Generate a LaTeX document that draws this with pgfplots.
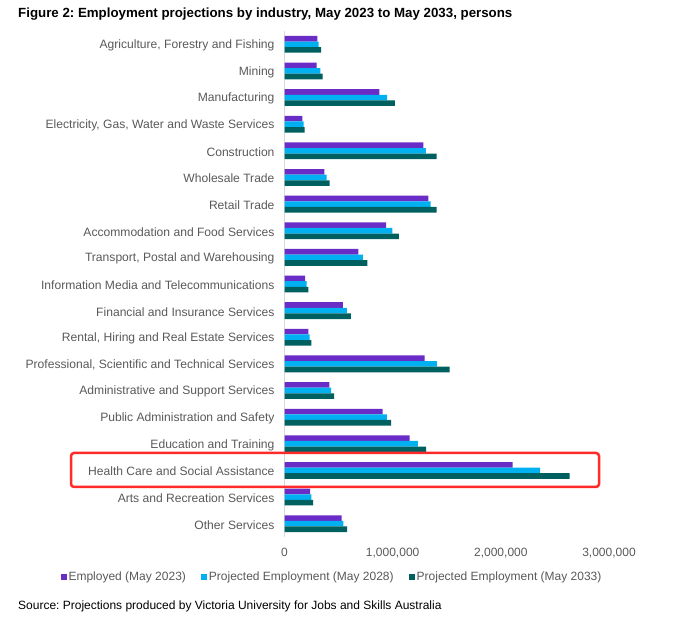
\documentclass[border=0pt]{standalone}
\usepackage{pgfplots}
\pgfplotsset{compat=1.18}
\usepackage{pgfplotstable}
\usepackage{fontspec}
\setmainfont{Liberation Sans}
\frenchspacing
\definecolor{cPurple}{HTML}{6A2CC7}
\definecolor{cCyan}{HTML}{00B0F0}
\definecolor{cTeal}{HTML}{005F5F}
\definecolor{cLabel}{HTML}{595959}
\definecolor{cBox}{HTML}{FF2A2A}
\definecolor{cAxis}{HTML}{D9D9D9}

% y: 18 = top category (Agriculture), 0 = bottom (Other Services)
\pgfplotstableread{
y  e23     p28     p33
18 304000  316000  338000
17 298000  332000  353000
16 878000  949000  1020000
15 165000  177000  187000
14 1285000 1307000 1406000
13 369000  390000  418000
12 1329000 1350000 1406000
11 940000  998000  1057000
10 684000  724000  767000
9  190000  205000  221000
8  539000  576000  613000
7  221000  233000  248000
6  1295000 1409000 1526000
5  415000  431000  458000
4  906000  946000  986000
3  1156000 1233000 1310000
2  2110000 2363000 2637000
1  236000  248000  264000
0  529000  545000  579000
}\datatable

\begin{document}
\begin{tikzpicture}[x=1pt,y=1pt]
\useasboundingbox (0,0) rectangle (677,626);
\node[anchor=base west, inner sep=0, font=\bfseries\fontsize{13.3}{16}\selectfont] at (18,608.7)
  {Figure 2: Employment projections by industry, May 2023 to May 2033, persons};
\begin{axis}[
  at={(284.5pt,89pt)}, anchor=south west,
  scale only axis, width=324.5pt, height=506pt,
  xmin=0, xmax=3000000, ymin=-0.5, ymax=18.5,
  enlargelimits=false, clip=false,
  axis lines*=left,
  x axis line style={draw=none},
  y axis line style={draw=cAxis, line width=0.8pt},
  major tick length=0pt,
  xbar=0pt, bar width=5.6pt,
  ytick={0,...,18},
  yticklabels={Other Services, Arts and Recreation Services, Health Care and Social Assistance, Education and Training, Public Administration and Safety, Administrative and Support Services, {Professional, Scientific and Technical Services}, {Rental, Hiring and Real Estate Services}, Financial and Insurance Services, Information Media and Telecommunications, {Transport, Postal and Warehousing}, Accommodation and Food Services, Retail Trade, Wholesale Trade, Construction, {Electricity, Gas, Water and Waste Services}, Manufacturing, Mining, {Agriculture, Forestry and Fishing}},
  xtick={0,1000000,2000000,3000000},
  scaled x ticks=false,
  /pgf/number format/fixed,
  /pgf/number format/1000 sep={,},
  /pgf/number format/assume math mode=true,
  yticklabel style={font=\fontsize{12.1}{14}\selectfont, text=cLabel, xshift=-6.5pt, yshift=-1.2pt},
  xticklabel style={font=\fontsize{12}{14}\selectfont, text=cLabel, yshift=-7.5pt},
  legend style={at={(axis description cs:0.1464,-0.0790)}, anchor=center, draw=none,
    font=\fontsize{12}{14}\selectfont, text=cLabel, legend columns=3,
    /tikz/every even column/.append style={column sep=13pt}},
  legend image code/.code={\path[#1] (0pt,-3pt) rectangle (6pt,3pt);},
]
\addplot[draw=none, fill=cPurple, bar shift=5.6pt] table[x=e23, y=y] {\datatable};
\addlegendentry{Employed (May 2023)}
\addplot[draw=none, fill=cCyan, bar shift=0pt] table[x=p28, y=y] {\datatable};
\addlegendentry{Projected Employment (May 2028)}
\addplot[draw=none, fill=cTeal, bar shift=-5.6pt] table[x=p33, y=y] {\datatable};
\addlegendentry{Projected Employment (May 2033)}
\end{axis}
\draw[cBox, line width=2.5pt, rounded corners=3pt] (71,139) rectangle (599,173);
\node[anchor=base west, inner sep=0, font=\fontsize{12}{14}\selectfont] at (18,16)
  {Source: Projections produced by Victoria University for Jobs and Skills Australia};
\end{tikzpicture}
\end{document}
